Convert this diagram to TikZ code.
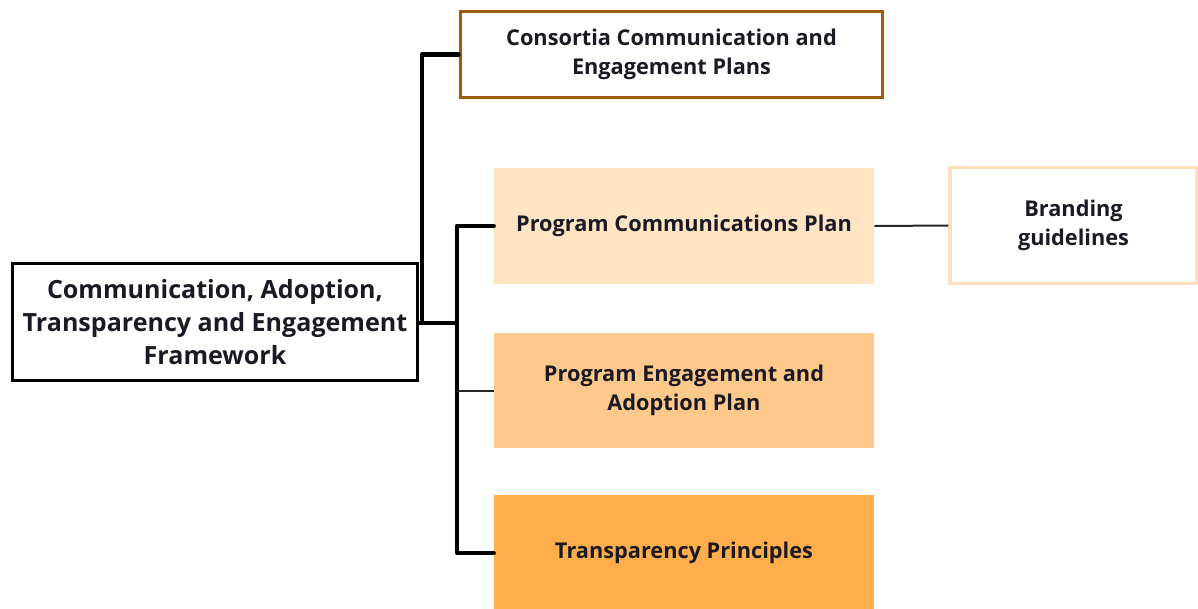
\documentclass[tikz,border=0pt]{standalone}
\usepackage{fontspec}
\setmainfont{Open Sans}
\usepackage{tikz}
\usetikzlibrary{positioning,calc}
\usepackage{xcolor}
\definecolor{brownline}{HTML}{9E5B0C}
\definecolor{peachlight}{HTML}{FFE4C4}
\definecolor{peachmid}{HTML}{FFC98B}
\definecolor{peachdark}{HTML}{FFAE4B}
\definecolor{peachedge}{HTML}{FFE0BC}
\definecolor{inktext}{HTML}{1A1A24}
\tikzset{
  rootbox/.style  = {draw=black, line width=2.4pt, rectangle, align=center,
                     font=\bfseries\fontsize{18.8}{24.8}\selectfont, text=inktext},
  planbox/.style  = {rectangle, minimum width=285pt, align=center,
                     font=\bfseries\fontsize{16.3}{21.8}\selectfont, text=inktext},
  link/.style     = {line width=3.2pt, line cap=round, line join=round},
  thinlink/.style = {line width=1.5pt, black!85},
}
\begin{document}
\begin{tikzpicture}[x=0.75pt,y=-0.75pt]
\useasboundingbox (0,0) rectangle (1198,608);
\node[rootbox, minimum width=304pt, minimum height=88pt] (root) at (215,322)
  {Communication, Adoption,\\Transparency and Engagement\\Framework};
\node[planbox, draw=brownline, line width=2.4pt, minimum width=317pt,
  minimum height=65pt] (cons) at (671.5,54.5)
  {Consortia Communication and\\Engagement Plans};
\node[planbox, fill=peachlight, minimum height=87pt] (pcp) at (684,226)
  {Program Communications Plan};
\node[planbox, draw=peachedge, line width=2.6pt, minimum width=185pt,
  minimum height=87pt] (brand) at (1073.5,225.5) {Branding\\guidelines};
\node[planbox, fill=peachmid, minimum height=86pt] (eng) at (684,390.5)
  {Program Engagement and\\Adoption Plan};
\node[planbox, fill=peachdark, minimum height=87pt] (trans) at (684,553)
  {Transparency Principles};
\coordinate (split) at (422,323);
\coordinate (hub) at (457,323);
% tree connectors
\draw[link] (root.east |- split) -- (hub);
\draw[link] (cons.west) -| (split);
\draw[link] (pcp.west) -| (hub);
\draw[link] (trans.west) -| (hub);
\draw[thinlink] (eng.west) -- (eng.west -| hub);
\draw[thinlink] (pcp.east) -- (brand.west);
\end{tikzpicture}
\end{document}
